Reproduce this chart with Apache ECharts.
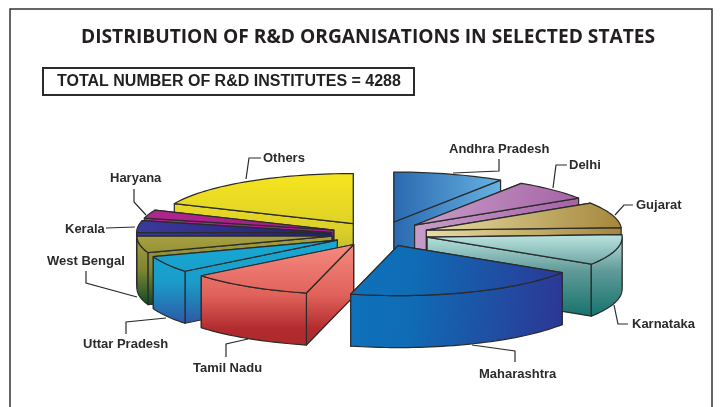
<!DOCTYPE html>
<html>
<head>
    <meta charset="utf-8">
    <title>R&amp;D organisations</title>
    <script src="https://cdn.jsdelivr.net/npm/echarts@6/dist/echarts.min.js"></script>
    <style>
        html, body { margin: 0; padding: 0; background: #fff; }
        #chart { width: 727px; height: 407px; }
    </style>
</head>
<body>
<div id="chart"></div>
<script type="text/javascript">
    // values, clockwise from 12 o'clock
    const states = ['Andhra Pradesh', 'Delhi', 'Gujarat', 'Karnataka', 'Maharashtra', 'Tamil Nadu',
        'Uttar Pradesh', 'West Bengal', 'Kerala', 'Haryana', 'Others'];
    const institutes = [395, 287, 355, 424, 850, 445, 230, 229, 164, 116, 793];
    const titleText = 'DISTRIBUTION OF R&D ORGANISATIONS IN SELECTED STATES';
    const totalText = 'TOTAL NUMBER OF R&D INSTITUTES = 4288';

    // pie geometry
    const cx = 380, cy = 234, rx = 195, ry = 50, depth = 52, explode = 0.25;
    const total = institutes.reduce((a, b) => a + b, 0);
    const ink = '#2b2b2b';

    // [gradient direction, colour stops]
    const sliceFill = [
        [[0, 0, 1, 0], [[0, '#2a69b0'], [1, '#66b2e2']]],
        [[0, 0, 1, 0.3], [[0, '#c9a0c8'], [1, '#a562a6']]],
        [[0, 0, 1, 0.2], [[0, '#e8dea4'], [1, '#a5873c']]],
        [[0, 0, 0, 1], [[0, '#bbe4e0'], [0.45, '#5f9a98'], [1, '#15736e']]],
        [[0, 0, 1, 0.2], [[0, '#0e72bb'], [0.3, '#0f6cb5'], [1, '#2b3996']]],
        [[0, 0, 0, 1], [[0, '#f58a80'], [0.5, '#e0625a'], [0.85, '#b02a2e'], [1, '#ae2a2d']]],
        [[0, 0, 0, 1], [[0, '#15aad4'], [0.5, '#1a9cc9'], [1, '#2c5aa6']]],
        [[0, 0, 0, 1], [[0, '#a8a040'], [0.5, '#7f8432'], [1, '#0f4a24']]],
        [[0, 0, 1, 0], [[0, '#3a3a9c'], [1, '#23206e']]],
        [[0, 0, 1, 0], [[0, '#b0268e'], [1, '#9b1f85']]],
        [[0, 0, 0, 1], [[0, '#f6e51f'], [0.55, '#dcd028'], [1, '#a5a835']]]
    ];

    // label text position and leader line, one per state
    const labelLayout = [
        { x: 449, y: 149, line: [[453, 173], [499, 171], [499, 159]] },
        { x: 569, y: 165, line: [[553, 188], [556, 165], [567, 165]] },
        { x: 636, y: 205, line: [[615, 215], [624, 205], [633, 205]] },
        { x: 632, y: 324, line: [[614, 305], [618, 324], [628, 324]] },
        { x: 479, y: 374, line: [[472, 345], [515, 351], [515, 362]] },
        { x: 193, y: 368, line: [[248, 339], [226, 344], [226, 357]] },
        { x: 83, y: 344, line: [[166, 318], [126, 322], [126, 334]] },
        { x: 47, y: 261, line: [[137, 297], [86, 283], [86, 271]] },
        { x: 65, y: 229, line: [[106, 228], [135, 227]] },
        { x: 110, y: 178, line: [[134, 189], [134, 202], [146, 215]] },
        { x: 263, y: 158, line: [[246, 179], [249, 158], [261, 158]] }
    ];

    function sliceAngles(index) {
        let before = 0;
        for (let i = 0; i < index; i++) before += institutes[i];
        const start = before / total * Math.PI * 2;
        return [start, start + institutes[index] / total * Math.PI * 2];
    }

    function renderSlice(params, api) {
        const i = params.dataIndex;
        const [a0, a1] = sliceAngles(i);
        const mid = (a0 + a1) / 2;
        const ox = cx + Math.sin(mid) * rx * explode;
        const oy = cy - Math.cos(mid) * ry * explode;
        const rim = t => [ox + Math.sin(t) * rx, oy - Math.cos(t) * ry];
        const arc = (from, to) => {
            const out = [];
            const n = Math.max(2, Math.ceil((to - from) / 0.03));
            for (let k = 0; k <= n; k++) out.push(rim(from + (to - from) * k / n));
            return out;
        };
        const drop = p => [p[0], p[1] + depth];
        const apex = [ox, oy];

        const top = [apex].concat(arc(a0, a1));
        const wallA = [apex, rim(a0), drop(rim(a0)), drop(apex)];
        const wallB = [apex, rim(a1), drop(rim(a1)), drop(apex)];
        // the radial wall further back goes first
        const faces = rim(a0)[1] < rim(a1)[1] ? [wallA, wallB] : [wallB, wallA];
        // only the part of the rim facing the viewer has an outer wall
        const f0 = Math.max(a0, Math.PI / 2), f1 = Math.min(a1, Math.PI * 1.5);
        if (f1 > f0) {
            const edge = arc(f0, f1);
            faces.push(edge.concat(edge.slice().reverse().map(drop)));
        }
        faces.push(top);

        let all = [];
        faces.forEach(f => { all = all.concat(f); });
        const xs = all.map(p => p[0]), ys = all.map(p => p[1]);
        const x0 = Math.min(...xs), w = Math.max(...xs) - x0;
        const y0 = Math.min(...ys), h = Math.max(...ys) - y0;
        const dir = sliceFill[i][0];
        const fill = new echarts.graphic.LinearGradient(
            x0 + dir[0] * w, y0 + dir[1] * h, x0 + dir[2] * w, y0 + dir[3] * h,
            sliceFill[i][1].map(s => ({ offset: s[0], color: s[1] })), true);

        // back slices are painted first
        const rank = Math.round((1 - Math.cos(mid)) * 100);
        const children = faces.map((f, k) => ({
            type: 'polygon',
            z2: rank * 10 + k,
            shape: { points: f },
            style: { fill: fill, stroke: ink, lineWidth: 1.2, lineJoin: 'round' }
        }));

        const lay = labelLayout[i];
        children.push({
            type: 'polyline',
            z2: 5000,
            shape: { points: lay.line },
            style: { fill: null, stroke: ink, lineWidth: 1.2 }
        });
        children.push({
            type: 'text',
            z2: 5001,
            style: {
                x: lay.x, y: lay.y, text: api.value(1),
                font: 'bold 13px "Liberation Sans"', fill: ink,
                textAlign: 'left', textVerticalAlign: 'middle'
            }
        });
        return { type: 'group', children: children };
    }

    const chart = echarts.init(document.getElementById('chart'));
    chart.setOption({
        animation: false,
        backgroundColor: '#ffffff',
        title: [{
            text: titleText,
            left: 81, top: 28, padding: 0,
            textStyle: { fontFamily: 'Open Sans', fontWeight: 'bold', fontSize: 19.2, color: '#231f20' }
        }, {
            text: totalText,
            left: 43, top: 68,
            padding: [6, 13, 5, 14],
            borderColor: ink, borderWidth: 2,
            textStyle: { fontFamily: 'Liberation Sans', fontWeight: 'bold', fontSize: 16, color: '#231f20' }
        }],
        graphic: [{
            type: 'rect',
            shape: { x: 10, y: 9, width: 702, height: 420 },
            style: { fill: 'none', stroke: '#333333', lineWidth: 1.5 },
            silent: true
        }],
        series: [{
            type: 'custom',
            coordinateSystem: 'none',
            renderItem: renderSlice,
            silent: true,
            data: states.map((s, i) => [institutes[i], s])
        }]
    });
</script>
</body>
</html>
